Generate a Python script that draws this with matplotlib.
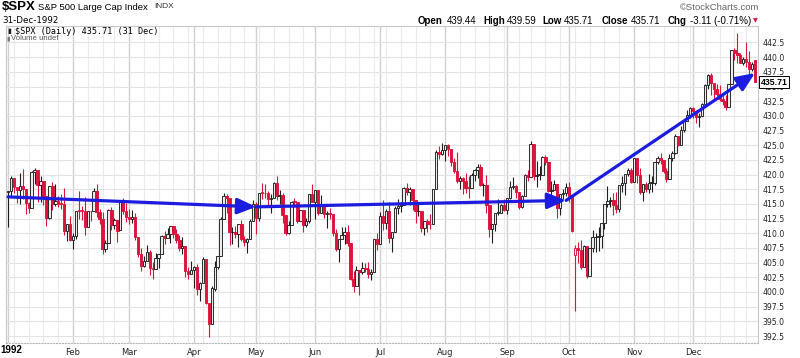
import numpy as np
import pandas as pd
import matplotlib
matplotlib.use("Agg")
import matplotlib.pyplot as plt
import matplotlib.transforms as mtransforms

# $SPX daily, 1992
prev_close = 417.09  # close of 31-Dec-1991, used only for the candle colour of day one
holidays = ["1992-01-01", "1992-02-17", "1992-04-17", "1992-05-25",
            "1992-07-03", "1992-09-07", "1992-11-26", "1992-12-25"]

opens = [
    # Jan
    417.03, 417.27, 419.34, 417.96, 417.40, 418.10, 417.61, 415.10, 414.34, 420.44, 420.77,
    418.21, 418.86, 416.36, 412.64, 418.13, 414.96, 415.48, 414.99, 414.98, 410.34, 411.62,
    # Feb
    408.79, 409.60, 413.85, 413.84, 413.82, 411.07, 413.77, 413.76, 417.13, 413.69,
    412.48, 407.38, 408.26, 413.90, 411.43, 412.27, 410.48, 415.35, 413.86,
    # Mar
    412.70, 412.45, 412.85, 409.33, 406.51, 404.44, 405.21, 406.89, 404.03, 403.89, 405.84,
    406.39, 409.58, 409.15, 409.80, 411.30, 409.91, 408.88, 407.52, 407.86, 403.50, 403.00,
    # Apr
    403.67, 404.23, 400.50, 401.55, 405.59, 398.06, 394.50, 400.59, 404.28, 406.08, 412.39,
    416.28, 416.04, 410.16, 410.26, 409.81, 411.60, 409.02, 408.45, 409.11, 412.02,
    # May
    414.95, 412.53, 416.91, 416.84, 416.79, 415.85, 416.05, 418.49, 416.29, 416.45,
    413.14, 410.09, 411.44, 415.39, 415.36, 412.17, 414.02, 411.41, 412.17, 416.74,
    # Jun
    415.35, 417.30, 413.50, 414.59, 413.26, 413.48, 413.36, 410.06, 407.25, 409.07, 409.76,
    410.29, 408.32, 402.26, 400.96, 403.67, 403.40, 404.04, 403.84, 403.12, 403.45, 408.96,
    # Jul
    408.20, 412.88, 411.77, 413.84, 409.16, 410.28, 414.23, 414.62, 414.87, 417.68, 417.10,
    417.54, 415.62, 413.75, 413.76, 410.93, 412.08, 411.60, 411.54, 417.52, 423.92, 423.48,
    # Aug
    424.21, 425.09, 424.36, 422.19, 420.59, 418.88, 419.42, 418.90, 417.78, 417.74, 419.91,
    420.74, 421.34, 418.19, 418.26, 414.85, 410.72, 411.61, 413.51, 413.53, 414.84,
    # Sep
    414.03, 416.07, 417.80, 417.98, 417.08, 414.44, 416.36, 419.95, 419.65, 425.27, 419.77,
    419.92, 419.93, 422.93, 422.14, 417.14, 417.44, 418.47, 414.35, 416.62, 416.80,
    # Oct
    417.80, 416.29, 406.30, 407.57, 407.18, 404.25, 407.75, 402.66, 407.44, 409.30, 409.37,
    409.60, 411.73, 414.98, 415.48, 415.67, 414.90, 414.10, 418.16, 418.49, 420.13, 420.86,
    # Nov
    418.68, 422.75, 419.92, 417.11, 418.34, 417.58, 418.59, 418.62, 422.20, 422.87,
    422.43, 420.68, 419.27, 422.85, 423.61, 426.65, 425.12, 427.59, 429.19, 430.16,
    # Dec
    431.35, 430.78, 429.89, 429.98, 432.06, 435.31, 436.99, 435.65, 434.64, 433.73, 432.84,
    432.57, 431.52, 435.43, 441.28, 440.70, 440.31, 439.03, 439.77, 439.15, 437.98, 439.44,
]

highs = [
    417.27, 419.79, 419.44, 417.96, 420.23, 420.98, 417.61, 415.36, 420.54, 421.18, 420.85,
    419.78, 418.86, 416.39, 418.13, 418.70, 418.48, 416.40, 416.69, 417.63, 411.62, 413.01,
    409.98, 413.85, 417.16, 414.62, 416.19, 413.77, 413.85, 417.68, 418.37, 414.15,
    413.57, 408.83, 414.14, 414.50, 412.60, 412.27, 415.37, 416.07, 415.08,
    414.22, 413.97, 413.40, 409.40, 407.51, 406.14, 408.07, 407.11, 405.16, 406.67, 406.40,
    409.77, 410.32, 410.89, 411.30, 411.31, 410.71, 409.78, 409.43, 407.86, 404.34, 405.21,
    404.49, 404.72, 401.75, 405.93, 405.61, 398.06, 401.04, 405.35, 406.08, 412.71, 416.79,
    416.73, 416.05, 411.09, 411.32, 411.60, 412.20, 409.54, 409.25, 412.35, 415.72,
    415.29, 416.91, 418.55, 418.42, 417.16, 416.64, 418.75, 419.78, 417.45, 416.93,
    413.14, 412.10, 415.56, 415.99, 415.40, 414.03, 414.02, 412.68, 416.77, 418.36,
    417.30, 417.30, 416.46, 414.97, 413.85, 414.23, 413.36, 410.68, 409.07, 411.08, 411.05,
    411.43, 408.32, 403.64, 404.43, 403.67, 405.09, 404.92, 405.19, 403.95, 409.05, 409.97,
    413.64, 415.71, 414.07, 415.33, 410.28, 414.69, 415.86, 415.38, 417.88, 418.50, 417.88,
    417.54, 415.62, 415.40, 413.76, 412.15, 412.35, 413.29, 417.55, 424.23, 424.79, 425.38,
    425.09, 425.14, 424.38, 422.80, 423.86, 419.71, 419.64, 420.25, 419.83, 420.35, 420.96,
    421.74, 421.80, 418.51, 419.87, 414.86, 411.64, 413.51, 415.76, 414.95, 415.76,
    416.07, 418.86, 419.55, 418.18, 417.08, 416.44, 420.15, 420.81, 425.64, 425.27, 422.36,
    421.40, 423.11, 423.31, 422.14, 418.91, 419.13, 418.47, 416.62, 417.46, 418.58,
    418.73, 416.35, 408.00, 408.56, 408.92, 408.04, 407.75, 407.44, 410.64, 410.07, 411.06,
    411.73, 414.98, 417.98, 416.21, 416.81, 417.02, 418.17, 419.71, 420.13, 421.16, 421.13,
    422.75, 422.81, 421.07, 418.40, 418.78, 420.12, 419.71, 422.20, 423.10, 423.61,
    422.44, 421.10, 423.49, 423.94, 426.98, 426.65, 428.30, 429.41, 431.02, 431.52,
    431.47, 430.95, 430.49, 432.22, 435.44, 437.08, 437.35, 435.65, 435.43, 435.31, 433.84,
    433.59, 435.44, 441.28, 441.48, 444.20, 440.72, 439.98, 442.65, 441.00, 439.22, 439.59,
]

lows = [
    411.04, 416.16, 416.92, 415.20, 415.02, 415.80, 413.30, 413.47, 414.32, 418.40, 415.37,
    415.26, 414.80, 411.18, 412.49, 413.94, 414.58, 414.54, 414.06, 409.64, 408.64, 408.71,
    407.24, 408.98, 412.36, 412.29, 409.76, 411.07, 412.02, 413.76, 412.75, 411.60,
    406.40, 406.85, 408.26, 410.49, 410.81, 408.57, 410.48, 413.21, 411.91,
    411.60, 411.75, 408.81, 405.98, 403.58, 404.31, 405.21, 402.90, 402.29, 403.89, 404.13,
    406.39, 408.17, 409.15, 408.36, 409.23, 408.28, 406.94, 406.43, 402.61, 402.19, 403.00,
    400.75, 399.43, 398.41, 401.52, 397.96, 392.41, 394.50, 400.24, 403.90, 406.08, 412.39,
    413.40, 407.93, 408.20, 409.23, 407.59, 408.64, 407.75, 406.65, 409.11, 412.02,
    409.87, 412.04, 415.81, 416.07, 414.63, 413.53, 416.05, 415.64, 415.04, 411.82,
    409.74, 409.86, 411.44, 414.45, 411.70, 412.17, 410.24, 411.09, 411.83, 415.35,
    412.44, 413.08, 413.50, 412.58, 410.97, 412.45, 409.54, 406.96, 405.06, 409.07, 408.19,
    407.80, 401.98, 399.97, 400.96, 399.44, 402.99, 403.42, 402.31, 402.10, 403.45, 407.23,
    408.14, 410.57, 410.79, 408.41, 406.88, 410.26, 413.33, 413.60, 414.87, 416.44, 414.74,
    413.92, 411.75, 413.01, 410.23, 409.68, 410.25, 410.68, 411.54, 417.52, 422.71, 423.30,
    422.36, 423.10, 421.40, 420.25, 418.60, 417.52, 416.63, 416.86, 416.04, 417.74, 418.95,
    419.35, 418.02, 416.36, 413.48, 409.30, 408.30, 410.47, 413.07, 413.38, 413.78,
    413.34, 415.87, 417.49, 415.94, 414.06, 414.37, 416.36, 418.91, 419.65, 419.06, 417.84,
    419.03, 419.93, 421.68, 416.97, 416.42, 417.36, 412.62, 413.11, 415.79, 416.36,
    415.41, 410.24, 396.80, 404.96, 403.97, 404.25, 402.42, 402.66, 406.83, 406.83, 406.92,
    407.43, 410.69, 414.40, 414.54, 413.10, 413.37, 413.71, 417.02, 416.51, 419.83, 418.54,
    418.68, 418.59, 416.61, 415.58, 416.97, 416.79, 417.10, 418.22, 421.80, 421.82,
    420.35, 418.71, 419.27, 422.26, 423.46, 424.95, 424.98, 427.28, 429.19, 429.64,
    429.71, 428.81, 428.18, 429.98, 432.06, 434.66, 433.62, 432.83, 433.37, 432.59, 431.83,
    430.95, 431.46, 435.43, 439.51, 439.09, 439.03, 438.69, 438.26, 436.88, 437.65, 435.71,
]

closes = [
    417.26, 419.34, 417.96, 417.40, 418.10, 417.61, 415.10, 414.34, 420.44, 420.77, 418.21,
    418.86, 416.36, 412.64, 418.13, 414.96, 415.48, 414.99, 414.96, 410.34, 411.62, 408.79,
    409.53, 413.85, 413.84, 413.82, 411.09, 413.77, 413.76, 417.13, 413.69, 412.48,
    407.38, 408.26, 413.90, 411.43, 412.27, 410.45, 415.35, 413.86, 412.70,
    412.45, 412.85, 409.33, 406.51, 404.44, 405.21, 406.89, 404.03, 403.89, 405.84, 406.39,
    409.58, 409.15, 409.80, 411.30, 409.91, 408.88, 407.52, 407.86, 403.50, 403.00, 403.69,
    404.23, 400.50, 401.55, 405.59, 398.06, 394.50, 400.64, 404.29, 406.08, 412.39, 416.28,
    416.04, 410.18, 410.26, 409.81, 411.60, 409.02, 408.45, 409.11, 412.02, 414.95,
    412.53, 416.91, 416.84, 416.79, 415.85, 416.05, 418.49, 416.29, 416.45, 413.14,
    410.09, 411.44, 415.39, 415.36, 412.17, 414.02, 411.41, 412.17, 416.74, 415.35,
    417.30, 413.50, 414.59, 413.26, 413.48, 413.36, 410.06, 407.25, 409.07, 409.76, 410.29,
    408.32, 402.26, 400.96, 403.67, 403.40, 404.04, 403.84, 403.12, 403.45, 408.96, 408.14,
    412.88, 411.77, 413.84, 409.16, 410.28, 414.23, 414.62, 414.87, 417.68, 417.10, 417.54,
    415.62, 413.75, 413.76, 410.93, 412.08, 411.60, 411.54, 417.52, 423.92, 423.48, 424.21,
    425.09, 424.36, 422.19, 420.59, 418.88, 419.42, 418.90, 417.78, 417.74, 419.91, 420.74,
    421.34, 418.19, 418.26, 414.85, 410.72, 411.61, 413.51, 413.53, 414.84, 414.03,
    416.07, 417.80, 417.98, 417.08, 414.44, 416.36, 419.95, 419.58, 425.27, 419.77, 419.92,
    419.93, 422.93, 422.14, 417.14, 417.44, 418.47, 414.35, 416.62, 416.80, 417.80,
    416.29, 410.47, 407.57, 407.18, 404.25, 407.75, 402.66, 407.44, 409.30, 409.37, 409.60,
    411.73, 414.98, 415.48, 415.67, 414.90, 414.10, 418.16, 418.49, 420.13, 420.86, 418.68,
    422.75, 419.92, 417.11, 418.34, 417.58, 418.59, 418.62, 422.20, 422.87, 422.43,
    420.68, 419.27, 422.85, 423.61, 426.65, 425.12, 427.59, 429.19, 430.16, 431.35,
    430.78, 429.89, 429.98, 432.06, 435.31, 436.99, 435.65, 434.64, 433.73, 432.84, 432.57,
    431.52, 435.43, 441.28, 440.70, 440.31, 439.03, 439.77, 439.15, 437.98, 438.82, 435.71,
]

month_labels = ["1992", "Feb", "Mar", "Apr", "May", "Jun",
                "Jul", "Aug", "Sep", "Oct", "Nov", "Dec"]
price_ticks = [392.5, 395.0, 397.5, 400.0, 402.5, 405.0, 407.5, 410.0, 412.5, 415.0, 417.5,
               420.0, 422.5, 425.0, 427.5, 430.0, 432.5, 435.0, 437.5, 440.0, 442.5]

# hand-drawn trend arrows
trend_dates = ["1992-01-02", "1992-05-01", "1992-09-30", "1992-12-31"]
trend_prices = [416.2, 414.5, 415.6, 437.3]

info_parts = [("Open", True), ("439.44", False), ("High", True), ("439.59", False),
              ("Low", True), ("435.71", False), ("Close", True), ("435.71", False),
              ("Chg", True), ("-3.11 (-0.71%)", False)]
info_x = [418, 447, 483, 507, 542, 564, 602, 631, 668, 690]

RED = "#dc143c"
BLK = "#1e1e1e"
BLUE = "#1c1ce0"

days = pd.bdate_range("1992-01-01", "1992-12-31")
days = days[~days.isin(pd.to_datetime(holidays))]
o = np.array(opens)
h = np.array(highs)
l = np.array(lows)
c = np.array(closes)
x = np.arange(len(days))

prev = np.r_[prev_close, c[:-1]]
edge = np.where(c >= prev, BLK, RED)
face = np.where(c < o, edge, "#ececec")

W, H = 800, 358
fig = plt.figure(figsize=(W / 100, H / 100), dpi=100)
ax = fig.add_axes([6 / W, 15 / H, 752 / W, 317 / H])


def px(xp, yp):
    return xp / W, 1 - yp / H


# grid: weekly light lines, monthly darker lines
s = pd.Series(x, index=days)
month_idx = s.groupby(days.month).first().values
week_idx = s.groupby(days.to_period("W")).first().values
for wi in week_idx:
    if wi not in month_idx:
        ax.axvline(wi, color="#ebebeb", lw=0.8, zorder=0)
for mi in month_idx:
    ax.axvline(mi, color="#d0d0d0", lw=1.0, zorder=0)
for yt in price_ticks:
    ax.axhline(yt, color="#e3e3e3", lw=0.8, zorder=0)

# candles
ax.vlines(x, l, h, colors=edge, lw=0.8, zorder=2)
ax.bar(x, np.maximum(np.abs(c - o), 0.12), bottom=np.minimum(o, c), width=0.82,
       color=face, edgecolor=edge, linewidth=0.65, zorder=3)

# trend arrows
tx = [s[pd.Timestamp(d)] for d in trend_dates]
for i in range(len(tx) - 1):
    ax.annotate("", xy=(tx[i + 1], trend_prices[i + 1]), xytext=(tx[i], trend_prices[i]),
                arrowprops=dict(arrowstyle="-|>,head_length=0.75,head_width=0.32",
                                mutation_scale=15, lw=2.3, color=BLUE,
                                shrinkA=0, shrinkB=0),
                zorder=5, annotation_clip=False)

ax.set_xlim(-0.7, 254.0)
ax.set_ylim(391.31, 445.31)

ax.yaxis.tick_right()
ax.set_yticks(price_ticks)
ax.set_yticklabels([f"{v:.1f}" for v in price_ticks])
ax.tick_params(axis="y", length=0, pad=3, labelsize=5.6, labelcolor="#222222")
ax.set_xticks(month_idx[1:])
ax.set_xticklabels(month_labels[1:])
ax.tick_params(axis="x", length=0, pad=3.5, labelsize=6, labelcolor="#222222")

for side in ["top", "left", "right"]:
    ax.spines[side].set_color("#c8c8c8")
    ax.spines[side].set_linewidth(0.8)
ax.spines["bottom"].set_color("#b5b5b5")
ax.spines["bottom"].set_linestyle(":")

# last price tag (sits over the 435.0 label, as on the original)
trans = mtransforms.blended_transform_factory(ax.transAxes, ax.transData)
ax.text(1.004, c[-1], f"{c[-1]:.2f}", transform=trans, ha="left", va="center",
        fontsize=6.3, fontweight="bold", family="Liberation Sans", clip_on=False,
        bbox=dict(boxstyle="square,pad=0.18", fc="white", ec="black", lw=0.7), zorder=6)

# header
fig.text(*px(0, 350), month_labels[0], ha="left", va="center", fontsize=7,
         fontweight="bold", family="Liberation Sans")
fig.text(*px(2, 6.5), "$SPX", ha="left", va="center", fontsize=9.5,
         fontweight="bold", family="Liberation Sans")
fig.text(*px(38, 7), "S&P 500 Large Cap Index", ha="left", va="center",
         fontsize=6.8, family="Liberation Sans")
fig.text(*px(154, 7), "INDX", ha="left", va="center", fontsize=6,
         family="Liberation Sans", color="#333333")
fig.text(*px(2, 20.5), "31-Dec-1992", ha="left", va="center", fontsize=6.3)
fig.text(*px(759, 8), "\u00a9StockCharts.com", ha="right", va="center", fontsize=6.8,
         family="Liberation Sans", color="#666666")
for (txt, bold), xp in zip(info_parts, info_x):
    fig.text(*px(xp, 20.5), txt, ha="left", va="center", fontsize=7,
             fontweight="bold" if bold else "normal", family="Liberation Sans")
fig.text(*px(753, 20.5), "\u25bc", ha="left", va="center", fontsize=4.5, color=RED)

# legend inside the chart
fig.text(*px(7, 31), "\u25ae", ha="left", va="center", fontsize=5, color=BLK)
fig.text(*px(15, 31), "$SPX (Daily) 435.71 (31 Dec)", ha="left", va="center",
         fontsize=6.1, family="DejaVu Sans Mono")
fig.text(*px(6, 39), "\u25ae", ha="left", va="center", fontsize=4.5, color="#777777")
fig.text(*px(11, 39), "Volume undef", ha="left", va="center", fontsize=5.6,
         family="Liberation Sans", color="#555555")

fig.savefig("out.png", dpi=100)
